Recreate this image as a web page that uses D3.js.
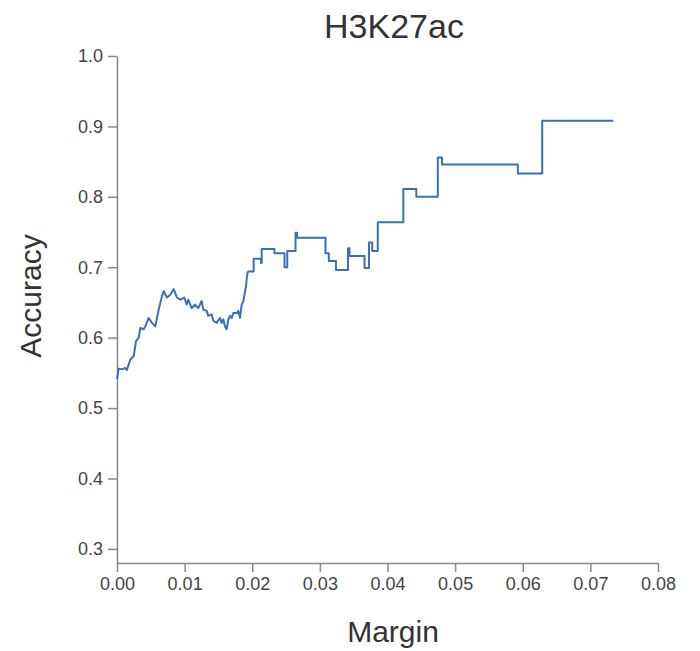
<!DOCTYPE html>
<html>
<head>
<meta charset="utf-8">
<script src="https://cdn.jsdelivr.net/npm/d3@7"></script>
<style>
  body { margin: 0; background: #fff; }
  svg text { font-family: "Liberation Sans", Arial, sans-serif; }
</style>
</head>
<body>
<div id="chart"></div>
<script>
// values (noisy start, then step changes of the curve)
var margin_vals = [0.0000, 0.00025, 0.00074, 0.00123, 0.00146, 0.00197, 0.00247, 0.00281, 0.00321, 0.00345,
  0.00395, 0.00418, 0.00469, 0.00518, 0.00566, 0.00617, 0.00665, 0.00691, 0.00739, 0.00788,
  0.00838, 0.00887, 0.00936, 0.00995, 0.01031, 0.01054, 0.01105, 0.01153, 0.01202, 0.01252,
  0.01276, 0.01326, 0.01350, 0.01400, 0.01424, 0.01474, 0.01523, 0.01548, 0.01572, 0.01597,
  0.01622, 0.01646, 0.01671, 0.01696, 0.01720, 0.01770, 0.01794, 0.01819, 0.01844, 0.01868,
  0.01908, 0.01918, 0.01933, 0.02021, 0.02129, 0.02140, 0.02329, 0.02477, 0.02518, 0.02640,
  0.02662, 0.03083, 0.03132, 0.03238, 0.03416, 0.03438, 0.03660, 0.03726, 0.03774, 0.03856,
  0.04234, 0.04426, 0.04744, 0.04806, 0.05927, 0.06288, 0.07339];
var accuracy_vals = [0.541, 0.556, 0.555, 0.557, 0.554, 0.569, 0.574, 0.595, 0.600, 0.614,
  0.612, 0.616, 0.628, 0.621, 0.616, 0.640, 0.659, 0.666, 0.657, 0.661,
  0.669, 0.657, 0.654, 0.657, 0.647, 0.654, 0.642, 0.647, 0.642, 0.652,
  0.640, 0.638, 0.631, 0.633, 0.624, 0.621, 0.628, 0.621, 0.626, 0.616,
  0.612, 0.626, 0.631, 0.628, 0.635, 0.635, 0.638, 0.628, 0.647, 0.652,
  0.673, 0.683, 0.694, 0.712, 0.706, 0.726, 0.720, 0.700, 0.723, 0.749,
  0.742, 0.720, 0.709, 0.696, 0.727, 0.716, 0.699, 0.735, 0.723, 0.764,
  0.811, 0.800, 0.856, 0.846, 0.833, 0.908, 0.908];
var step_from = 0.01933; // after this margin the curve goes in flat steps
var x_ticks = [0, 0.01, 0.02, 0.03, 0.04, 0.05, 0.06, 0.07, 0.08];
var y_ticks = [0.3, 0.4, 0.5, 0.6, 0.7, 0.8, 0.9, 1.0];

var data = margin_vals.map(function(m, i) {
  return { margin: m, acc: accuracy_vals[i] };
});
var noisy = data.filter(function(d) { return d.margin <= step_from; });
var steps = data.filter(function(d) { return d.margin >= step_from; });

var W = 700, H = 651;
var m = { top: 56, right: 42, bottom: 88, left: 117 },
  width = W - m.left - m.right,
  height = H - m.top - m.bottom;

var svg = d3.select("#chart").append("svg")
  .attr("width", W)
  .attr("height", H);

var g = svg.append("g")
  .attr("transform", "translate(" + m.left + "," + m.top + ")");

var x = d3.scaleLinear().domain([0, 0.08]).range([0, width]);
var y = d3.scaleLinear().domain([0.28, 1.0]).range([height, 0]);

// x axis
var xa = g.append("g")
  .attr("transform", "translate(0," + height + ")")
  .call(d3.axisBottom(x).tickValues(x_ticks).tickFormat(d3.format(".2f")).tickSize(9).tickPadding(5).tickSizeOuter(0));

// y axis
var ya = g.append("g")
  .call(d3.axisLeft(y).tickValues(y_ticks).tickFormat(d3.format(".1f")).tickSize(9).tickPadding(5).tickSizeOuter(0));

[xa, ya].forEach(function(a) {
  a.select(".domain").attr("stroke", "#888").attr("stroke-width", 1.5);
  a.selectAll(".tick line").attr("stroke", "#888").attr("stroke-width", 1.5);
  a.selectAll(".tick text").attr("fill", "#444").style("font-size", "18px");
});

// the curve: jagged part as a plain line, rest as steps
var lineNoisy = d3.line()
  .x(function(d) { return x(d.margin); })
  .y(function(d) { return y(d.acc); });
var lineSteps = d3.line()
  .curve(d3.curveStepAfter)
  .x(function(d) { return x(d.margin); })
  .y(function(d) { return y(d.acc); });

[[noisy, lineNoisy], [steps, lineSteps]].forEach(function(p) {
  g.append("path")
    .datum(p[0])
    .attr("fill", "none")
    .attr("stroke", "#3b70b8")
    .attr("stroke-width", 2)
    .attr("stroke-linejoin", "round")
    .attr("d", p[1]);
});

// title + labels
svg.append("text")
  .attr("x", 394)
  .attr("y", 38)
  .attr("text-anchor", "middle")
  .attr("fill", "#333")
  .style("font-size", "34px")
  .text("H3K27ac");

svg.append("text")
  .attr("x", 393)
  .attr("y", 642)
  .attr("text-anchor", "middle")
  .attr("fill", "#333")
  .style("font-size", "30px")
  .text("Margin");

svg.append("text")
  .attr("transform", "translate(41,296) rotate(-90)")
  .attr("text-anchor", "middle")
  .attr("fill", "#333")
  .style("font-size", "30px")
  .text("Accuracy");
</script>
</body>
</html>
